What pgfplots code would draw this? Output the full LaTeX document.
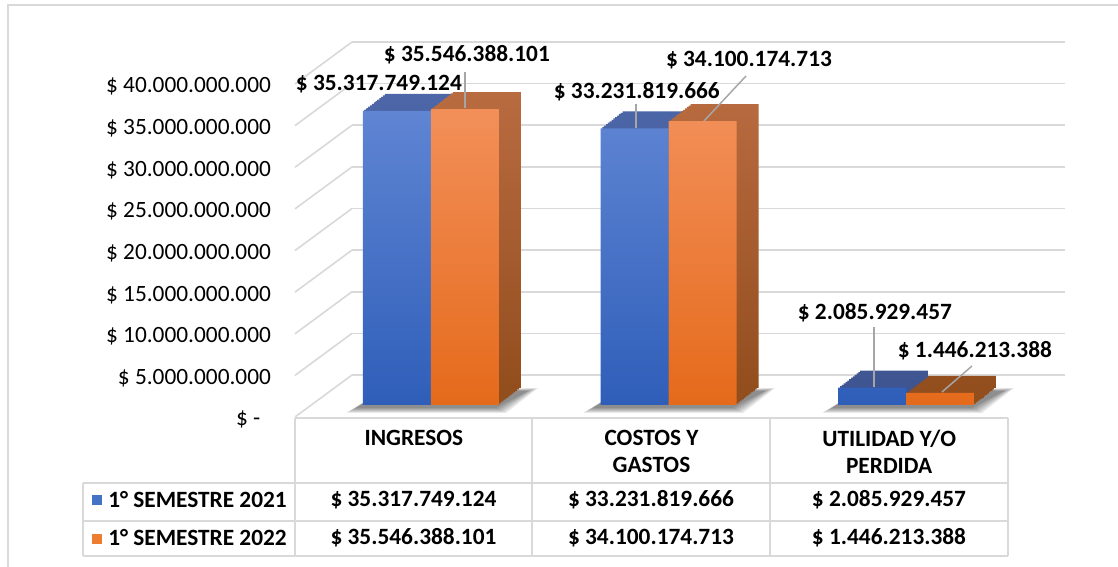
\documentclass[border=0pt]{standalone}
\usepackage{pgfplots}
\pgfplotsset{compat=1.18}
\usepackage{pgfplotstable}
\usepackage{fontspec}
\setmainfont{Carlito}
\definecolor{gridc}{HTML}{D9D9D9}
\definecolor{bluetop}{HTML}{5F85D3}
\definecolor{bluebot}{HTML}{2F5EB9}
\definecolor{blueface}{HTML}{4C66A8}
\definecolor{blueside}{HTML}{3E5591}
\definecolor{orgtop}{HTML}{F28F59}
\definecolor{orgbot}{HTML}{E56A1B}
\definecolor{orgface}{HTML}{B96B40}
\definecolor{orgside}{HTML}{934E1E}
\definecolor{leg1}{HTML}{4472C4}
\definecolor{leg2}{HTML}{ED7D31}
\definecolor{leader}{HTML}{A6A6A6}
\newcommand{\fs}{\fontsize{17.5}{20.25}\selectfont}

\pgfplotstableread{
x y
0 35317749124
1 33231819666
2 2085929457
}\semA
\pgfplotstableread{
x y
0 35546388101
1 34100174713
2 1446213388
}\semB
\pgfplotstableread{
x y dx dy lab
0 35317749124 -26.2 29.3 35.317.749.124
0 35546388101 39.8 49.6 35.546.388.101
1 33231819666 -11.0 36.2 33.231.819.666
1 34100174713 73.1 54.8 34.100.174.713
2 2085929457 -10.7 65.0 2.085.929.457
2 1446213388 64.3 40.5 1.446.213.388
}\labs

\begin{document}
\begin{tikzpicture}[x=0.75pt,y=0.75pt]
\useasboundingbox (0,0) rectangle (1118,567);
\fill[white] (0,0) rectangle (1118,567);
\draw[gridc, line width=1.5pt] (8,-20) -- (8,562) -- (1140,562);
% soft shadows under the columns (drawn behind)
\foreach \cx in {432,669,908}{
  \foreach \e in {0,2,4,6,8,10}{
    \fill[black, opacity=0.09]
      (\cx-76-\e,159-0.5*\e) -- (\cx+64+\e,159-0.5*\e) -- (\cx+96+\e,176+0.3*\e) -- (\cx-50,176) -- cycle;
  }
}
\begin{axis}[
  at={(221.25pt,112.5pt)}, anchor=south west,
  scale only axis, width=534.75pt, height=249.75pt,
  xmin=-0.5, xmax=2.5, ymin=0, ymax=40000000000,
  clip=false,
  scaled y ticks=false,
  axis line style={draw=none},
  major tick length=0pt,
  xtick={0,1,2},
  xticklabels={INGRESOS, {COSTOS Y\\GASTOS}, {UTILIDAD Y/O\\PERDIDA}},
  xticklabel style={font=\fs\bfseries, align=center, anchor=north, yshift=-6pt},
  ytick={0,5000000000,10000000000,15000000000,20000000000,25000000000,30000000000,35000000000,40000000000},
  yticklabels={{\$ -\hspace*{8pt}}, {\$ 5.000.000.000}, {\$ 10.000.000.000}, {\$ 15.000.000.000}, {\$ 20.000.000.000}, {\$ 25.000.000.000}, {\$ 30.000.000.000}, {\$ 35.000.000.000}, {\$ 40.000.000.000}},
  yticklabel style={font=\fs, anchor=east, xshift=-14.5pt, yshift=-2pt},
  ymajorgrids,
  major grid style={gridc, line width=1.2pt, xshift=42.75pt, yshift=31.5pt},
]
\pgfplotsinvokeforeach{0,5,...,40}{
  \draw[gridc, line width=1.2pt] (axis cs:-0.5,#1e9) -- ++(42.75pt,31.5pt);
}
% blue extrusion (top/side faces)
\pgfplotsinvokeforeach{1,...,12}{
  \addplot[ybar, bar width=51pt, bar shift=-25.5pt, draw=none, top color=blueface, bottom color=blueside,
    xshift=12.75pt+#1*1.375pt, yshift=9pt+#1*1.0625pt, forget plot] table[x=x,y=y]{\semA};
}
\addplot[ybar, bar width=51pt, bar shift=-25.5pt, draw=none, top color=bluetop, bottom color=bluebot,
  xshift=12.75pt, yshift=9pt, forget plot] table[x=x,y=y]{\semA};
% orange extrusion
\pgfplotsinvokeforeach{1,...,12}{
  \addplot[ybar, bar width=51pt, bar shift=25.5pt, draw=none, top color=orgface, bottom color=orgside,
    xshift=12.75pt+#1*1.375pt, yshift=9pt+#1*1.0625pt, forget plot] table[x=x,y=y]{\semB};
}
\addplot[ybar, bar width=51pt, bar shift=25.5pt, draw=none, top color=orgtop, bottom color=orgbot,
  xshift=12.75pt, yshift=9pt, forget plot] table[x=x,y=y]{\semB};
% data labels
\addplot[draw=none, mark=none, nodes near coords={\$ \pgfplotspointmeta}, point meta=explicit symbolic,
  visualization depends on={\thisrow{dx} \as \dx},
  visualization depends on={\thisrow{dy} \as \dy},
  every node near coord/.append style={anchor=center, font=\fs\bfseries, text=black, xshift=\dx pt, yshift=\dy pt},
  forget plot] table[x=x, y=y, meta=lab]{\labs};
\end{axis}
% leader lines
\begin{scope}[leader, line width=1.1pt]
\draw (465,495) -- (465,459);
\draw (636,463) -- (636,439);
\draw (746,491) -- (704,446);
\draw (874,240) -- (874,180);
\draw (972,201) -- (942,175);
\end{scope}
% data table
\begin{scope}[gridc, line width=1.5pt]
\draw (295,149) -- (1008,149);
\draw (83,84) -- (1008,84);
\draw (83,46) -- (1008,46);
\draw (83,11) -- (1008,11);
\draw (83,84) -- (83,11);
\draw (295,149) -- (295,11);
\draw (532,149) -- (532,11);
\draw (770,149) -- (770,11);
\draw (1008,149) -- (1008,11);
\end{scope}
\fill[leg1] (92,62) rectangle (102,72);
\fill[leg2] (92,23) rectangle (102,33);
\begin{scope}[font=\fs\bfseries]
\node[anchor=west, inner sep=0] at (108,67) {1° SEMESTRE 2021};
\node[anchor=west, inner sep=0] at (108,29) {1° SEMESTRE 2022};
\node at (413.5,67) {\$ 35.317.749.124};
\node at (651,67) {\$ 33.231.819.666};
\node at (889,67) {\$ 2.085.929.457};
\node at (413.5,29) {\$ 35.546.388.101};
\node at (651,29) {\$ 34.100.174.713};
\node at (889,29) {\$ 1.446.213.388};
\end{scope}
\end{tikzpicture}
\end{document}
